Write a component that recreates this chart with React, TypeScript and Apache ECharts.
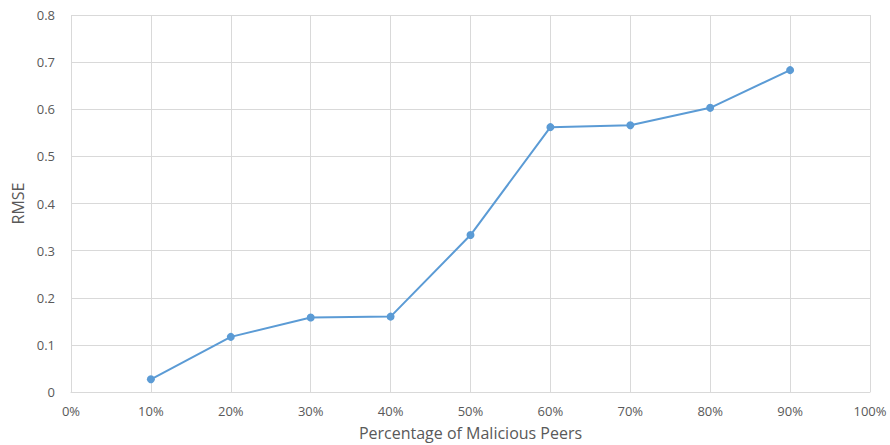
import React, { useEffect, useRef } from "react";
import * as echarts from "echarts";

const xValues = [0.1, 0.2, 0.3, 0.4, 0.5, 0.6, 0.7, 0.8, 0.9];
const rmse = [0.027, 0.117, 0.158, 0.16, 0.333, 0.562, 0.566, 0.603, 0.683];
const xTitle = "Percentage of Malicious Peers";
const yTitle = "RMSE";

export default function App() {
  const ref = useRef<HTMLDivElement>(null);
  useEffect(() => {
    const chart = echarts.init(ref.current!, null, { renderer: "svg" });
    const font = "'Open Sans', 'Liberation Sans', sans-serif";
    chart.setOption({
      animation: false,
      grid: { left: 71, right: 20, top: 15, bottom: 53, outerBoundsMode: "none", containLabel: false },
      xAxis: {
        type: "value",
        min: 0,
        max: 1,
        interval: 0.1,
        name: xTitle,
        nameLocation: "middle",
        nameGap: 33,
        nameTextStyle: { color: "#595959", fontSize: 16, fontFamily: font },
        axisLine: { show: true, lineStyle: { color: "#d9d9d9", width: 1 } },
        axisTick: { show: false },
        axisLabel: {
          color: "#595959",
          fontSize: 13,
          fontFamily: font,
          margin: 12,
          formatter: (v: number) => Math.round(v * 100) + "%",
        },
        splitLine: { show: true, lineStyle: { color: "#d9d9d9", width: 1 } },
      },
      yAxis: {
        type: "value",
        min: 0,
        max: 0.8,
        interval: 0.1,
        name: yTitle,
        nameLocation: "middle",
        nameGap: 44,
        nameTextStyle: { color: "#595959", fontSize: 16, fontFamily: font },
        axisLine: { show: false },
        axisTick: { show: false },
        axisLabel: {
          color: "#595959",
          fontSize: 13,
          fontFamily: font,
          margin: 16,
          formatter: (v: number) => (v === 0 ? "0" : v.toFixed(1)),
        },
        splitLine: { show: true, lineStyle: { color: "#d9d9d9", width: 1 } },
      },
      series: [
        {
          type: "line",
          data: xValues.map((x, i) => [x, rmse[i]]),
          symbol: "circle",
          symbolSize: 8,
          lineStyle: { color: "#5B9BD5", width: 2 },
          itemStyle: { color: "#5B9BD5" },
        },
      ],
    });
    return () => chart.dispose();
  }, []);
  return <div ref={ref} style={{ width: 890, height: 445, position: "absolute", left: 0, top: 0 }} />;
}
